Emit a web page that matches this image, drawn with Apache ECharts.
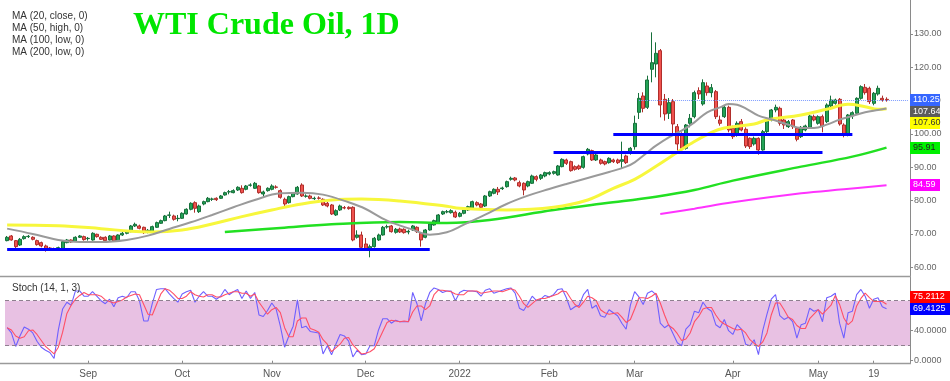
<!DOCTYPE html>
<html><head><meta charset="utf-8">
<script src="https://cdn.jsdelivr.net/npm/echarts@6/dist/echarts.min.js"></script>
<style>html,body{margin:0;padding:0;background:#fff;}#c{width:950px;height:381px;}</style>
</head><body><div id="c"></div>
<script>
// ---------------- DATA ----------------
const START_DATE = '2021-08-05';
const END_DATE = '2022-05-24';
const CLOSED_DAYS = ['2021-12-24', '2022-04-15'];
const PAD_SLOTS = ['p1', 'p2', 'p3', 'p4', 'p5'];

const TIME_LABELS = {
  '2021-09-01': 'Sep', '2021-10-01': 'Oct', '2021-11-01': 'Nov', '2021-12-01': 'Dec',
  '2022-01-03': '2022', '2022-02-01': 'Feb', '2022-03-01': 'Mar', '2022-04-01': 'Apr',
  '2022-05-02': 'May', '2022-05-19': '19'
};
const PRICE_TICKS = [60, 70, 80, 90, 100, 110, 120, 130];
const STOCH_TICKS = [0, 40, 80];

const OPEN = [
68.0,69.4,68.0,66.7,68.6,69.2,69.0,68.0,67.4,66.4,
65.8,65.5,65.2,65.4,67.4,68.2,67.8,69.0,69.2,68.6,
68.2,69.9,69.0,69.0,68.2,69.4,67.9,69.7,70.2,70.7,
72.4,72.4,72.0,70.5,70.7,72.0,73.2,74.0,75.6,75.4,
74.6,74.7,76.0,77.4,79.4,76.7,79.0,79.7,80.4,80.7,
80.7,81.7,82.6,82.4,83.2,83.7,83.4,84.6,83.7,84.4,
82.0,83.0,83.4,84.1,83.0,80.4,79.4,81.2,82.0,84.7,
81.3,81.4,80.6,80.8,80.4,79.2,78.7,75.7,77.2,77.9,
78.0,78.0,69.0,69.7,67.0,65.4,66.2,68.2,69.7,72.1,
72.4,70.5,71.5,71.4,70.6,71.2,72.0,70.2,69.0,71.2,
72.7,73.2,76.0,76.6,76.4,76.5,75.3,76.2,77.2,77.7,
79.4,79.0,78.4,81.4,82.2,83.4,83.6,84.2,86.4,86.8,
85.4,85.2,84.4,85.2,87.2,86.7,87.4,88.0,88.2,87.7,
90.2,92.2,91.7,90.2,90.4,90.0,94.0,95.0,92.2,92.2,
91.7,91.4,92.2,92.2,91.8,93.4,94.2,96.2,106.5,111.4,
108.0,119.4,121.0,125.0,110.4,106.2,109.7,102.2,99.7,95.7,
103.2,105.2,113.0,109.0,114.4,112.4,112.7,104.2,105.2,108.0,
101.7,99.7,103.7,101.4,98.7,97.0,98.7,95.2,100.7,104.2,
107.2,107.7,104.2,102.2,104.2,101.7,99.2,101.2,102.0,105.2,
103.2,105.2,103.7,108.4,109.2,110.4,102.7,99.7,105.4,106.2,
110.7,114.0,113.7,109.2,112.0,110.7,110.4
];
const CLOSE = [
69.0,68.2,66.2,68.4,69.2,69.3,68.4,66.8,66.4,65.4,
65.5,65.4,65.9,67.7,68.2,67.6,69.0,69.4,68.3,68.7,
70.2,69.2,68.4,68.0,69.4,67.9,69.7,70.2,70.7,72.4,
72.9,71.7,70.4,71.1,72.2,73.4,74.0,75.4,75.7,74.4,
74.7,76.2,77.4,79.2,77.7,78.4,79.7,80.7,80.5,80.3,
81.4,82.4,82.7,83.0,84.0,82.4,84.4,84.7,85.2,82.4,
82.6,83.7,84.4,84.0,81.0,79.0,81.2,82.2,84.0,81.4,
81.4,80.7,80.7,80.7,78.7,78.4,76.0,77.0,78.4,77.8,
77.6,68.2,69.7,66.0,65.4,66.2,68.7,69.7,72.0,72.2,
70.7,71.4,70.6,70.4,70.8,72.4,70.7,68.2,71.2,73.0,
74.0,75.7,76.7,76.7,77.0,75.1,76.2,77.2,78.2,79.7,
78.7,78.0,81.4,82.7,83.4,82.6,83.8,85.7,86.7,86.2,
84.4,83.2,85.7,87.4,86.4,87.7,88.4,88.4,88.7,90.4,
92.4,91.2,89.0,89.4,89.6,93.2,95.4,92.2,93.7,91.2,
91.0,92.7,91.7,91.4,92.3,91.4,95.7,103.2,110.7,107.7,
116.2,121.4,124.2,108.7,106.0,109.4,103.0,97.0,95.7,102.7,
104.7,112.4,112.0,115.4,112.4,113.9,105.2,103.2,108.0,101.2,
99.2,103.2,101.2,96.4,96.2,98.7,95.2,100.7,104.2,107.2,
108.0,103.2,102.7,103.7,102.2,98.4,102.0,102.4,105.4,104.2,
105.2,102.4,108.7,110.2,110.2,103.0,99.7,105.7,106.4,110.7,
114.2,112.4,109.7,112.2,113.7,110.2,110.25
];
const LOW = [
67.8,68.0,65.4,66.4,68.3,68.8,68.1,66.5,66.0,64.7,
65.1,65.0,64.9,65.2,67.2,67.3,67.6,68.8,68.0,68.0,
68.0,68.9,68.2,67.8,68.0,67.7,67.7,69.4,69.9,70.5,
72.1,71.4,70.0,70.2,70.5,71.8,73.0,73.8,74.8,74.0,
73.8,74.5,75.8,77.1,76.4,76.3,78.6,79.5,79.9,79.9,
80.5,81.5,81.9,82.2,82.9,82.1,83.1,84.2,83.5,82.1,
81.0,82.7,83.1,83.6,80.6,78.4,79.1,81.0,81.8,81.1,
80.9,80.4,80.2,80.3,78.4,78.0,75.7,75.4,76.9,77.4,
77.3,67.8,68.6,65.7,65.0,63.0,65.9,67.9,69.5,71.6,
70.4,70.1,70.3,70.1,69.9,70.9,70.3,66.2,68.7,71.0,
72.5,73.0,75.7,76.2,76.1,74.8,75.0,75.9,76.9,77.4,
78.3,77.7,78.1,81.1,81.9,81.7,83.2,83.9,86.0,85.8,
84.0,81.6,84.0,85.0,85.8,86.2,87.0,87.6,87.8,87.5,
90.0,90.7,88.7,89.0,89.2,89.6,93.6,91.9,91.9,90.8,
90.6,91.1,91.3,91.0,89.5,91.0,93.8,95.3,104.5,106.5,
107.5,115.5,117.0,105.0,104.0,104.5,100.3,95.0,94.5,95.3,
102.0,104.7,110.5,108.5,111.5,111.0,104.5,102.5,104.8,100.5,
98.5,99.2,100.8,95.8,95.5,96.5,93.8,95.0,100.3,103.8,
106.5,102.5,101.5,101.8,101.5,97.8,98.8,100.8,101.6,103.8,
102.8,100.5,103.3,108.0,108.8,102.5,99.0,99.3,104.5,105.8,
110.3,111.8,109.0,108.6,111.5,109.7,109.7
];
const HIGH = [
69.4,69.7,68.2,68.8,69.6,69.7,69.3,68.3,67.7,66.8,
66.1,65.9,66.2,67.9,68.5,68.4,69.3,69.7,69.5,69.1,
70.5,70.1,69.3,69.3,69.7,69.6,69.9,70.6,71.0,72.7,
73.4,72.8,72.2,71.5,72.5,73.7,74.3,75.7,76.7,75.8,
75.7,76.5,77.7,79.5,79.8,78.8,80.0,81.1,80.9,81.0,
81.7,82.7,83.2,83.4,84.3,84.6,84.7,85.2,85.6,84.7,
83.0,84.0,84.9,84.6,83.4,80.9,81.5,82.5,84.4,85.2,
81.9,81.8,81.2,81.3,80.7,79.6,79.0,77.4,78.8,78.4,
78.3,78.3,71.1,70.7,68.8,66.8,69.1,70.1,72.4,72.8,
72.7,71.8,71.9,71.7,71.3,72.7,72.3,70.5,71.5,73.3,
74.3,76.0,77.0,77.2,77.4,77.0,76.6,77.5,78.5,80.0,
79.8,79.3,81.7,83.0,83.7,84.1,84.2,86.0,87.2,87.1,
86.0,85.5,86.0,87.8,87.6,88.0,88.7,88.8,89.0,90.7,
92.7,92.6,92.0,90.6,90.8,93.5,95.8,95.3,94.0,92.6,
92.0,93.0,92.6,92.6,97.7,93.8,96.1,105.5,112.3,112.5,
117.5,130.5,127.5,125.5,112.0,110.8,110.5,103.0,100.5,103.0,
106.0,113.0,114.0,116.4,115.5,115.0,113.2,105.5,108.5,108.5,
102.5,103.8,104.5,102.0,99.0,99.2,99.0,101.2,104.6,107.5,
108.8,108.2,104.8,104.2,104.5,102.0,102.4,102.8,105.8,105.8,
105.6,105.8,109.2,111.5,110.6,110.8,103.2,106.0,106.8,111.0,
114.6,115.0,114.2,112.6,114.5,111.5,111.0
];

// moving averages: [bar index, value]
const MA20_CLOSE = [[0,71.6],[6,70.0],[12,68.2],[17,67.6],[22,67.6],[28,68.2],[33,69.5],[38,71.5],[43,73.5],[48,75.7],[53,78.0],[58,80.2],[64,82.2],[69,82.4],[74,81.8],[80,79.5],[84,77.5],[89,74.0],[95,71.3],[99,69.8],[103,70.5],[107,72.8],[112,75.8],[117,79.0],[122,81.5],[127,83.5],[131,85.0],[136,86.8],[141,88.6],[145,90.2],[147,91.5],[150,94.5],[152,96.5],[155,99.0],[158,101.0],[161,103.5],[164,106.5],[167,108.0],[169,109.0],[171,108.8],[173,107.7],[176,105.5],[179,104.4],[183,102.8],[186,101.8],[189,101.8],[192,102.8],[195,104.3],[198,105.4],[201,106.5],[204,107.2],[206,107.64]];
const MA50_HIGH = [[0,72.7],[12,72.5],[22,71.6],[29,70.8],[34,70.6],[41,71.2],[48,73.0],[55,75.2],[62,77.2],[69,79.0],[76,80.2],[83,80.5],[92,79.9],[103,78.3],[106,77.7],[117,77.2],[128,78.0],[136,80.2],[142,83.7],[147,86.4],[152,90.3],[157,94.5],[160,97.0],[165,100.5],[168,101.8],[175,103.0],[178,104.2],[186,105.7],[192,107.4],[197,108.9],[201,108.2],[204,107.4],[206,107.60]];
const MA100_LOW = [[51,70.6],[64,71.8],[76,72.9],[92,73.6],[103,73.3],[113,74.2],[128,77.2],[140,79.2],[152,81.2],[161,83.2],[170,86.0],[186,90.2],[198,93.2],[206,95.91]];
const MA200_LOW = [[153,76.0],[161,77.6],[170,79.5],[186,82.2],[196,83.4],[206,84.59]];

// horizontal support lines: level, first bar, last bar
const LEVELS = [[65.4, 0, 99], [94.5, 128, 191], [100.0, 142, 198]];
const LAST_PRICE = 110.25;
const LAST_PRICE_FROM = 148;

const STOCH_K = [
44,37,19,33,45,42,37,26,18,14, 11,3,41,69,78,74,93,93,86,86,
92,86,80,76,82,72,84,86,84,92, 92,80,53,53,76,95,96,96,89,83,
78,89,92,94,78,86,92,86,86,82, 86,95,88,92,95,83,93,83,91,61,
59,67,77,69,46,18,33,46,81,44, 46,39,38,37,9,20,8,22,35,33,
26,5,14,8,9,20,20,41,56,56, 50,54,52,52,52,91,76,53,76,91,
97,95,91,93,93,80,91,94,93,93, 92,86,94,96,90,92,94,96,97,90,
70,67,76,86,80,82,87,85,88,95, 96,84,68,72,74,88,95,70,74,60,
58,68,64,60,50,42,74,92,85,75, 90,93,88,50,44,48,36,24,20,42,
48,66,64,78,70,66,48,44,55,40, 35,48,42,22,20,28,8,40,62,82,
88,60,55,58,52,30,48,50,70,66, 68,52,84,86,90,50,30,64,66,88,
95,86,70,82,84,72,69.4125
];
const STOCH_D = [
44,41,33,30,32,40,41,35,27,19, 14,9,18,38,63,74,82,87,91,88,
88,88,86,81,79,77,79,81,85,87, 89,88,75,62,61,75,89,96,94,89,
83,83,86,92,88,86,85,88,88,85, 85,88,90,92,92,90,90,86,89,78,
70,62,68,71,64,44,32,32,53,57, 57,43,41,38,28,22,12,17,22,30,
31,21,15,9,10,12,16,27,39,51, 54,53,52,53,52,65,73,73,68,73,
88,94,94,93,92,89,88,88,93,93, 93,90,91,92,93,93,92,94,96,94,
86,76,71,76,81,83,83,85,87,89, 93,92,83,75,71,78,86,84,80,68,
64,62,63,64,58,51,55,69,84,84, 83,86,90,77,61,47,43,36,27,29,
37,52,59,69,71,71,61,53,49,46, 43,41,42,37,28,23,19,25,37,61,
77,77,68,58,55,47,43,43,56,62, 68,62,68,74,87,75,57,48,53,73,
83,90,84,79,79,79,75.2112
];

// ---------------- BUILD ----------------
function buildDates() {
  const out = [];
  const d = new Date(START_DATE + 'T00:00:00Z');
  const end = new Date(END_DATE + 'T00:00:00Z');
  while (d <= end) {
    const wd = d.getUTCDay();
    const s = d.toISOString().slice(0, 10);
    if (wd !== 0 && wd !== 6 && CLOSED_DAYS.indexOf(s) < 0) out.push(s);
    d.setUTCDate(d.getUTCDate() + 1);
  }
  return out;
}
const dates = buildDates();
const cats = dates.concat(PAD_SLOTS);
const candles = dates.map((d, i) => [OPEN[i], CLOSE[i], LOW[i], HIGH[i]]);
const labelOn = (i, v) => TIME_LABELS[v] !== undefined;

const SANS = '"Liberation Sans", Arial, sans-serif';
const chart = echarts.init(document.getElementById('c'), null, {renderer: 'canvas'});

const maSeries = (name, data, color, width) => ({
  name, type: 'line', xAxisIndex: 0, yAxisIndex: 0, data, smooth: 0.4,
  showSymbol: false, symbol: 'none', z: 4, silent: true,
  lineStyle: {color, width}
});

const option = {
  animation: false,
  backgroundColor: '#ffffff',
  grid: [
    {left: 5, right: 40, top: 0, height: 276, containLabel: false, outerBoundsMode: 'none'},
    {left: 5, right: 40, top: 277, height: 86, containLabel: false, outerBoundsMode: 'none'}
  ],
  xAxis: [
    {type: 'category', gridIndex: 0, data: cats, boundaryGap: true,
     axisLine: {show: false}, axisTick: {show: false}, axisLabel: {show: false}, splitLine: {show: false}},
    {type: 'category', gridIndex: 1, data: cats, boundaryGap: true,
     axisLine: {show: false},
     axisTick: {show: true, interval: labelOn, alignWithLabel: true, length: 3, lineStyle: {color: '#888'}},
     axisLabel: {interval: labelOn, formatter: v => TIME_LABELS[v] || '', color: '#555', fontSize: 10, fontFamily: SANS, margin: 6},
     splitLine: {show: false}}
  ],
  yAxis: [
    {type: 'value', gridIndex: 0, position: 'right', min: 57.39, max: 140.2, scale: true,
     axisLine: {show: true, lineStyle: {color: '#8a8a8a', width: 1}},
     axisTick: {show: true, length: 3, customValues: PRICE_TICKS, lineStyle: {color: '#8a8a8a'}},
     axisLabel: {customValues: PRICE_TICKS, formatter: v => v.toFixed(2), color: '#666', fontSize: 9, fontFamily: SANS, margin: 4},
     splitLine: {show: false}},
    {type: 'value', gridIndex: 1, position: 'right', min: -3.07, max: 111.6, scale: true,
     axisLine: {show: true, lineStyle: {color: '#8a8a8a', width: 1}},
     axisTick: {show: true, length: 3, customValues: STOCH_TICKS, lineStyle: {color: '#8a8a8a'}},
     axisLabel: {customValues: STOCH_TICKS, formatter: v => v.toFixed(4), color: '#666', fontSize: 9, fontFamily: SANS, margin: 4},
     splitLine: {show: false}}
  ],
  series: [
    {
      name: 'WTI', type: 'candlestick', xAxisIndex: 0, yAxisIndex: 0, data: candles,
      barWidth: 3.5, z: 3, silent: true,
      itemStyle: {color: '#22a356', color0: '#f0524e', borderColor: '#17703b', borderColor0: '#b02e2b', borderWidth: 1},
      markLine: {
        silent: true, symbol: 'none', animation: false, z: 5,
        label: {show: false},
        lineStyle: {color: '#0000ff', width: 3, type: 'solid'},
        data: LEVELS.map(l => [{coord: [cats[l[1]], l[0]]}, {coord: [cats[l[2]], l[0]]}]).concat([
          [{coord: [cats[LAST_PRICE_FROM], LAST_PRICE], lineStyle: {color: '#7d9cff', width: 1, type: 'dotted'}},
           {coord: [cats[cats.length - 1], LAST_PRICE]}]
        ])
      }
    },
    maSeries('MA200', MA200_LOW, '#ff33ff', 2),
    maSeries('MA100', MA100_LOW, '#22e022', 2.5),
    maSeries('MA50', MA50_HIGH, '#f7f73c', 3),
    maSeries('MA20', MA20_CLOSE, '#9a9a9a', 2),
    {
      name: '%K', type: 'line', xAxisIndex: 1, yAxisIndex: 1, data: STOCH_K,
      showSymbol: false, symbol: 'none', silent: true, z: 4,
      lineStyle: {color: '#6f60ff', width: 1.1},
      markArea: {silent: true, itemStyle: {color: '#e8c1e3'}, data: [[{yAxis: 20}, {yAxis: 80}]]},
      markLine: {silent: true, symbol: 'none', label: {show: false},
        lineStyle: {color: '#8e7f8e', width: 1, type: [4, 3]},
        data: [{yAxis: 80}, {yAxis: 20}]}
    },
    {
      name: '%D', type: 'line', xAxisIndex: 1, yAxisIndex: 1, data: STOCH_D,
      showSymbol: false, symbol: 'none', silent: true, z: 4,
      lineStyle: {color: '#ff4f66', width: 1.1}
    }
  ]
};
chart.setOption(option);

// ---------------- overlays (text / tags) ----------------
function tag(text, yc, bg, fg, w) {
  return {type: 'group', z: 100, children: [
    {type: 'rect', shape: {x: 910, y: Math.round(yc) - 6, width: w, height: 12}, style: {fill: bg}, z: 100},
    {type: 'text', z: 101, style: {text, x: 913, y: Math.round(yc), fill: fg, fontSize: 9, fontFamily: SANS, verticalAlign: 'middle', align: 'left'}}
  ]};
}
const py = v => chart.convertToPixel({yAxisIndex: 0}, v);
const sy = v => chart.convertToPixel({yAxisIndex: 1}, v);

const mainTags = [
  [LAST_PRICE, '110.25', '#3566ff', '#fff'],
  [MA20_CLOSE[MA20_CLOSE.length - 1][1], '107.64', '#5c5c5c', '#fff'],
  [MA50_HIGH[MA50_HIGH.length - 1][1], '107.60', '#ffff00', '#333'],
  [MA100_LOW[MA100_LOW.length - 1][1], '95.91', '#00f000', '#222'],
  [MA200_LOW[MA200_LOW.length - 1][1], '84.59', '#ff00ff', '#fff']
];
let prev = -1e9;
const tagEls = [];
mainTags.forEach(t => {
  let y = py(t[0]);
  if (y < prev + 11.8) y = prev + 11.8;
  prev = y;
  tagEls.push(tag(t[1], y, t[2], t[3], 30));
});
const kLast = STOCH_K[STOCH_K.length - 1], dLast = STOCH_D[STOCH_D.length - 1];
const yK = sy(kLast);
tagEls.push(tag(kLast.toFixed(4), yK, '#0000ff', '#fff', 40));
tagEls.push(tag(dLast.toFixed(4), yK - 12, '#ff0000', '#fff', 40));

const legendLines = ['MA (20, close, 0)', 'MA (50, high, 0)', 'MA (100, low, 0)', 'MA (200, low, 0)'];
const legendEls = legendLines.map((t, i) => ({type: 'text', z: 50,
  style: {text: t, x: 12, y: 16 + i * 12.2, fill: '#333', fontSize: 10, fontFamily: SANS, verticalAlign: 'middle'}}));

chart.setOption({graphic: [
  {type: 'line', z: 40, shape: {x1: 0, y1: 276.5, x2: 911, y2: 276.5}, style: {stroke: '#9a9a9a', lineWidth: 1.5}},
  {type: 'line', z: 40, shape: {x1: 0, y1: 363.5, x2: 911, y2: 363.5}, style: {stroke: '#9a9a9a', lineWidth: 1.5}},
  {type: 'text', z: 50, style: {text: 'WTI Crude Oil, 1D', x: 133, y: 26, fill: '#00e600',
    font: 'bold 32px "Liberation Serif", "Times New Roman", serif', verticalAlign: 'middle'}},
  {type: 'text', z: 50, style: {text: 'Stoch (14, 1, 3)', x: 12, y: 288.5, fill: '#333', fontSize: 10, fontFamily: SANS, verticalAlign: 'middle'}}
].concat(legendEls, tagEls)});
</script></body></html>
